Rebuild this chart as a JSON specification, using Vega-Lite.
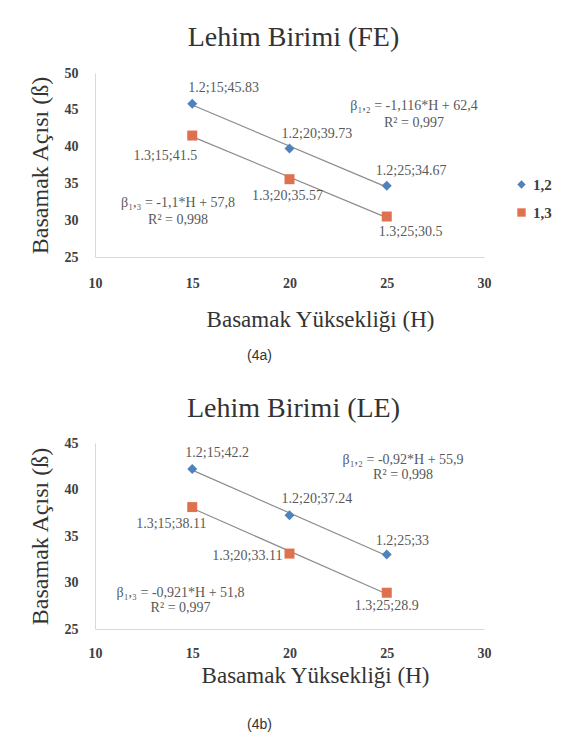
{
  "$schema": "https://vega.github.io/schema/vega-lite/v6.json",
  "padding": {"left": 28, "top": 24, "right": 0, "bottom": 0},
  "background": "white",
  "datasets": {
    "fe": [
      {"s": "1,2", "h": 15, "v": 45.83, "lab": "1.2;15;45.83"},
      {"s": "1,2", "h": 20, "v": 39.73, "lab": "1.2;20;39.73"},
      {"s": "1,2", "h": 25, "v": 34.67, "lab": "1.2;25;34.67"},
      {"s": "1,3", "h": 15, "v": 41.5, "lab": "1.3;15;41.5"},
      {"s": "1,3", "h": 20, "v": 35.57, "lab": "1.3;20;35.57"},
      {"s": "1,3", "h": 25, "v": 30.5, "lab": "1.3;25;30.5"}
    ],
    "le": [
      {"s": "1,2", "h": 15, "v": 42.2, "lab": "1.2;15;42.2"},
      {"s": "1,2", "h": 20, "v": 37.24, "lab": "1.2;20;37.24"},
      {"s": "1,2", "h": 25, "v": 33, "lab": "1.2;25;33"},
      {"s": "1,3", "h": 15, "v": 38.11, "lab": "1.3;15;38.11"},
      {"s": "1,3", "h": 20, "v": 33.11, "lab": "1.3;20;33.11"},
      {"s": "1,3", "h": 25, "v": 28.9, "lab": "1.3;25;28.9"}
    ],
    "fe_eq": [
      {"h": 26.4, "v": 45.52, "t": "β₁,₂ = -1,116*H + 62,4\nR² = 0,997"},
      {"h": 14.27, "v": 32.34, "t": "β₁,₃ = -1,1*H + 57,8\nR² = 0,998"}
    ],
    "le_eq": [
      {"h": 25.84, "v": 43.18, "t": "β₁,₂ = -0,92*H + 55,9\nR² = 0,998"},
      {"h": 14.4, "v": 28.85, "t": "β₁,₃ = -0,921*H + 51,8\nR² = 0,997"}
    ]
  },
  "spacing": 32,
  "vconcat": [
    {
      "title": {"text": "(4a)", "orient": "bottom", "font": "Liberation Sans", "fontSize": 14, "fontWeight": "normal", "color": "#333333", "offset": 18, "anchor": "middle"},
      "vconcat": [
        {
          "title": {"text": "Lehim Birimi (FE)", "font": "Liberation Serif", "fontSize": 28, "fontWeight": "normal", "color": "#333333", "offset": 14, "anchor": "middle", "dx": 4},
          "width": 389,
          "height": 184,
          "data": {"name": "fe"},
          "layer": [
            {
              "transform": [{"regression": "v", "on": "h", "groupby": ["s"]}],
              "mark": {"type": "line", "color": "#8c8c8c", "strokeWidth": 1.2},
              "encoding": {
                "x": {"field": "h", "type": "quantitative", "scale": {"domain": [10, 30], "nice": false, "zero": false},
                  "axis": {"title": "Basamak Yüksekliği (H)", "values": [10, 15, 20, 25, 30], "tickCount": 10, "labelOverlap": false, "labelPadding": 19, "titlePadding": 18, "titleX": 225}},
                "y": {"field": "v", "type": "quantitative", "scale": {"domain": [25, 50], "nice": false, "zero": false},
                  "axis": {"title": "Basamak Açısı (ß)", "values": [25, 30, 35, 40, 45, 50], "tickCount": 10, "labelOverlap": false, "labelBound": false, "labelPadding": 17, "titlePadding": 12}},
                "detail": {"field": "s"}
              }
            },
            {
              "mark": {"type": "point", "filled": true, "opacity": 1, "size": 100},
              "encoding": {
                "x": {"field": "h", "type": "quantitative"},
                "y": {"field": "v", "type": "quantitative"},
                "color": {"field": "s", "type": "nominal", "scale": {"domain": ["1,2", "1,3"], "range": ["#4f81bd", "#e0714f"]},
                  "legend": {"title": null, "orient": "none", "legendX": 419, "legendY": 104, "rowPadding": 12}},
                "shape": {"field": "s", "type": "nominal", "scale": {"domain": ["1,2", "1,3"], "range": ["diamond", "square"]},
                  "legend": {"title": null, "orient": "none", "legendX": 419, "legendY": 104, "rowPadding": 12}}
              }
            },
            {"transform": [{"filter": "datum.lab == '1.2;15;45.83'"}], "mark": {"type": "text", "align": "left", "dx": -4, "dy": -16},
              "encoding": {"x": {"field": "h", "type": "quantitative"}, "y": {"field": "v", "type": "quantitative"}, "text": {"field": "lab"}}},
            {"transform": [{"filter": "datum.lab == '1.2;20;39.73'"}], "mark": {"type": "text", "align": "left", "dx": -8, "dy": -15},
              "encoding": {"x": {"field": "h", "type": "quantitative"}, "y": {"field": "v", "type": "quantitative"}, "text": {"field": "lab"}}},
            {"transform": [{"filter": "datum.lab == '1.2;25;34.67'"}], "mark": {"type": "text", "align": "left", "dx": -11, "dy": -15},
              "encoding": {"x": {"field": "h", "type": "quantitative"}, "y": {"field": "v", "type": "quantitative"}, "text": {"field": "lab"}}},
            {"transform": [{"filter": "datum.lab == '1.3;15;41.5'"}], "mark": {"type": "text", "align": "right", "dx": 5, "dy": 20},
              "encoding": {"x": {"field": "h", "type": "quantitative"}, "y": {"field": "v", "type": "quantitative"}, "text": {"field": "lab"}}},
            {"transform": [{"filter": "datum.lab == '1.3;20;35.57'"}], "mark": {"type": "text", "align": "center", "dx": -2, "dy": 17},
              "encoding": {"x": {"field": "h", "type": "quantitative"}, "y": {"field": "v", "type": "quantitative"}, "text": {"field": "lab"}}},
            {"transform": [{"filter": "datum.lab == '1.3;25;30.5'"}], "mark": {"type": "text", "align": "left", "dx": -8, "dy": 15},
              "encoding": {"x": {"field": "h", "type": "quantitative"}, "y": {"field": "v", "type": "quantitative"}, "text": {"field": "lab"}}},
            {
              "data": {"name": "fe_eq"},
              "mark": {"type": "text", "align": "center", "baseline": "middle", "lineBreak": "\n", "lineHeight": 17},
              "encoding": {"x": {"field": "h", "type": "quantitative"}, "y": {"field": "v", "type": "quantitative"}, "text": {"field": "t"}}
            }
          ]
        }
      ]
    },
    {
      "title": {"text": "(4b)", "orient": "bottom", "font": "Liberation Sans", "fontSize": 14, "fontWeight": "normal", "color": "#333333", "offset": 31, "anchor": "middle"},
      "vconcat": [
        {
          "title": {"text": "Lehim Birimi (LE)", "font": "Liberation Serif", "fontSize": 28, "fontWeight": "normal", "color": "#333333", "offset": 13, "anchor": "middle", "dx": 4},
          "width": 389,
          "height": 186,
          "data": {"name": "le"},
          "layer": [
            {
              "transform": [{"regression": "v", "on": "h", "groupby": ["s"]}],
              "mark": {"type": "line", "color": "#8c8c8c", "strokeWidth": 1.2},
              "encoding": {
                "x": {"field": "h", "type": "quantitative", "scale": {"domain": [10, 30], "nice": false, "zero": false},
                  "axis": {"title": "Basamak Yüksekliği (H)", "values": [10, 15, 20, 25, 30], "tickCount": 10, "labelOverlap": false, "labelPadding": 17, "titlePadding": 4, "titleX": 220}},
                "y": {"field": "v", "type": "quantitative", "scale": {"domain": [25, 45], "nice": false, "zero": false},
                  "axis": {"title": "Basamak Açısı (ß)", "values": [25, 30, 35, 40, 45], "tickCount": 10, "labelOverlap": false, "labelBound": false, "labelPadding": 17, "titlePadding": 12}},
                "detail": {"field": "s"}
              }
            },
            {
              "mark": {"type": "point", "filled": true, "opacity": 1, "size": 100},
              "encoding": {
                "x": {"field": "h", "type": "quantitative"},
                "y": {"field": "v", "type": "quantitative"},
                "color": {"field": "s", "type": "nominal", "scale": {"domain": ["1,2", "1,3"], "range": ["#4f81bd", "#e0714f"]},
                  "legend": {"title": null, "orient": "none", "legendX": 419, "legendY": 103, "rowPadding": 12}},
                "shape": {"field": "s", "type": "nominal", "scale": {"domain": ["1,2", "1,3"], "range": ["diamond", "square"]},
                  "legend": {"title": null, "orient": "none", "legendX": 419, "legendY": 103, "rowPadding": 12}}
              }
            },
            {"transform": [{"filter": "datum.lab == '1.2;15;42.2'"}], "mark": {"type": "text", "align": "left", "dx": -7, "dy": -16},
              "encoding": {"x": {"field": "h", "type": "quantitative"}, "y": {"field": "v", "type": "quantitative"}, "text": {"field": "lab"}}},
            {"transform": [{"filter": "datum.lab == '1.2;20;37.24'"}], "mark": {"type": "text", "align": "left", "dx": -8, "dy": -16},
              "encoding": {"x": {"field": "h", "type": "quantitative"}, "y": {"field": "v", "type": "quantitative"}, "text": {"field": "lab"}}},
            {"transform": [{"filter": "datum.lab == '1.2;25;33'"}], "mark": {"type": "text", "align": "left", "dx": -11, "dy": -14},
              "encoding": {"x": {"field": "h", "type": "quantitative"}, "y": {"field": "v", "type": "quantitative"}, "text": {"field": "lab"}}},
            {"transform": [{"filter": "datum.lab == '1.3;15;38.11'"}], "mark": {"type": "text", "align": "center", "dx": -21, "dy": 17},
              "encoding": {"x": {"field": "h", "type": "quantitative"}, "y": {"field": "v", "type": "quantitative"}, "text": {"field": "lab"}}},
            {"transform": [{"filter": "datum.lab == '1.3;20;33.11'"}], "mark": {"type": "text", "align": "right", "dx": -7, "dy": 2},
              "encoding": {"x": {"field": "h", "type": "quantitative"}, "y": {"field": "v", "type": "quantitative"}, "text": {"field": "lab"}}},
            {"transform": [{"filter": "datum.lab == '1.3;25;28.9'"}], "mark": {"type": "text", "align": "center", "dx": 0, "dy": 13},
              "encoding": {"x": {"field": "h", "type": "quantitative"}, "y": {"field": "v", "type": "quantitative"}, "text": {"field": "lab"}}},
            {
              "data": {"name": "le_eq"},
              "mark": {"type": "text", "align": "center", "baseline": "middle", "lineBreak": "\n", "lineHeight": 15},
              "encoding": {"x": {"field": "h", "type": "quantitative"}, "y": {"field": "v", "type": "quantitative"}, "text": {"field": "t"}}
            }
          ]
        }
      ]
    }
  ],
  "config": {
    "view": {"stroke": null},
    "axis": {
      "grid": false, "ticks": false, "tickSize": 0,
      "domainColor": "#d9d9d9", "domainWidth": 1,
      "labelFont": "Liberation Serif", "labelFontSize": 14, "labelFontWeight": "bold", "labelColor": "#404040",
      "labelFlush": false, "labelOverlap": false,
      "titleFont": "Liberation Serif", "titleFontSize": 23, "titleFontWeight": "normal", "titleColor": "#333333"
    },
    "axisY": {"titleFontSize": 24},
    "legend": {
      "labelFont": "Liberation Serif", "labelFontSize": 15, "labelFontWeight": "bold", "labelColor": "#404040",
      "symbolSize": 70, "padding": 0, "labelOffset": 4
    },
    "text": {"font": "Liberation Serif", "fontSize": 14, "color": "#595959"}
  }
}
